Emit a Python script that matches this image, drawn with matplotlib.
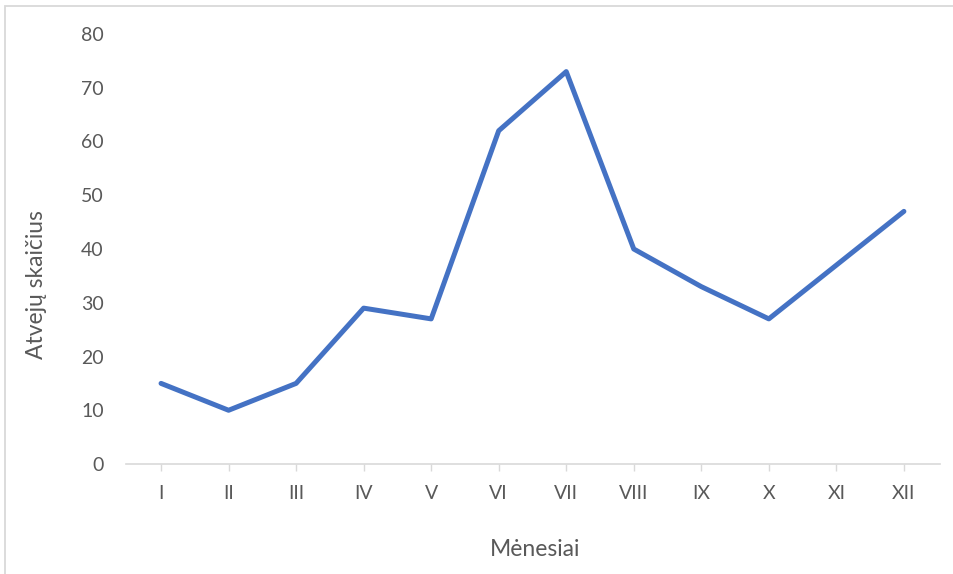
import matplotlib.pyplot as plt
from matplotlib.patches import Rectangle

plt.rcParams['font.family'] = ['Lato', 'DejaVu Sans']

# duomenys
menesiai = ['I', 'II', 'III', 'IV', 'V', 'VI', 'VII', 'VIII', 'IX', 'X', 'XI', 'XII']
atvejai = [15, 10, 15, 29, 27, 62, 73, 40, 33, 27, 37, 47]
yticks = [0, 10, 20, 30, 40, 50, 60, 70, 80]

fig = plt.figure(figsize=(9.54, 5.74), dpi=100)
ax = fig.add_axes([0.132, 0.1916, 0.853, 0.7492])

x = list(range(len(menesiai)))
ax.plot(x, atvejai, color='#4472C4', linewidth=3.6, solid_joinstyle='round', solid_capstyle='round')

ax.set_xlim(-0.52, len(menesiai) - 0.47)
ax.set_ylim(0, 80)
ax.set_xticks(x)
ax.set_xticklabels(menesiai)
ax.set_yticks(yticks)

for s in ['top', 'right', 'left']:
    ax.spines[s].set_visible(False)
ax.spines['bottom'].set_color('#d9d9d9')
ax.spines['bottom'].set_linewidth(1.2)

ax.tick_params(axis='x', colors='#d9d9d9', length=5, width=1, labelcolor='#595959',
               labelsize=14, pad=10)
ax.tick_params(axis='y', length=0, labelcolor='#595959', labelsize=14, pad=16)

# ašių pavadinimai
fig.text(535 / 954, 1 - 550 / 574, 'Mėnesiai', color='#595959', fontsize=16.5,
         ha='center', va='center')
fig.text(37 / 954, 1 - 285 / 574, 'Atvejų skaičius', color='#595959', fontsize=16.5,
         ha='center', va='center', rotation=90)

# rėmelis aplink diagramą
fig.patches.append(Rectangle((5 / 954, -0.05), 1.0, 1 - 6 / 574 + 0.05, transform=fig.transFigure,
                             fill=False, edgecolor='#d9d9d9', linewidth=1.3))

fig.savefig('out.png', dpi=100)
